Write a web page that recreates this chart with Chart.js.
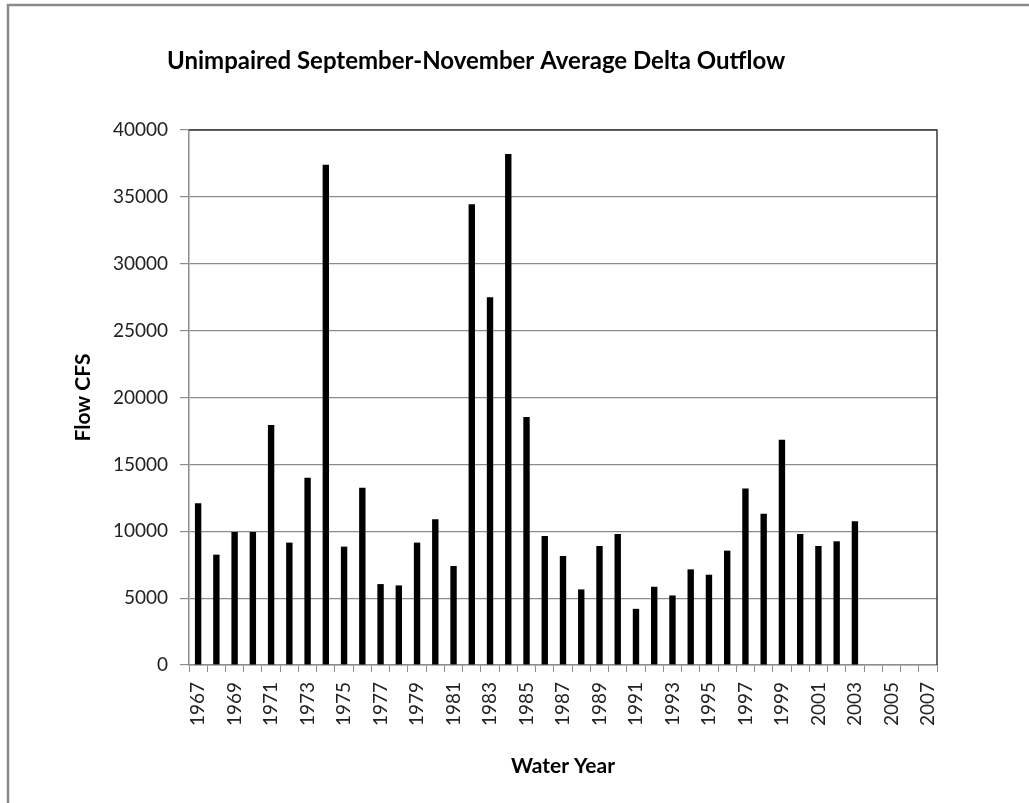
<!DOCTYPE html>
<html>
<head>
<meta charset="utf-8">
<title>Unimpaired September-November Average Delta Outflow</title>
<script src="https://cdn.jsdelivr.net/npm/chart.js@4.4.1/dist/chart.umd.min.js"></script>
<style>
    html, body { margin: 0; padding: 0; background: #fff; overflow: hidden; }
    #wrap { width: 1029px; height: 803px; }
</style>
</head>
<body>
<div id="wrap"><canvas id="flow-chart" width="1029" height="803"></canvas></div>
<script>
// data
const chartTitle = 'Unimpaired September-November Average Delta Outflow';
const years = [
    '1967', '1968', '1969', '1970', '1971', '1972', '1973', '1974', '1975', '1976',
    '1977', '1978', '1979', '1980', '1981', '1982', '1983', '1984', '1985', '1986',
    '1987', '1988', '1989', '1990', '1991', '1992', '1993', '1994', '1995', '1996',
    '1997', '1998', '1999', '2000', '2001', '2002', '2003', '2004', '2005', '2006', '2007'
];
const flowCfs = [
    12100, 8250, 9950, 9950, 17950, 9150, 14000, 37400, 8850, 13250,
    6050, 5950, 9150, 10900, 7400, 34450, 27500, 38200, 18550, 9650,
    8150, 5650, 8900, 9800, 4200, 5850, 5200, 7150, 6750, 8550,
    13200, 11300, 16850, 9800, 8900, 9250, 10750, null, null, null, null
];
const yMin = 0;
const yMax = 40000;
const yStep = 5000;

const FONT = 'Lato, "Open Sans", "Liberation Sans", sans-serif';

// frame around the whole chart, title, and the dark top/right plot border
const chartDecor = {
    id: 'chartDecor',
    beforeDraw(chart) {
        const ctx = chart.ctx;
        ctx.save();
        ctx.fillStyle = '#fff';
        ctx.fillRect(0, 0, chart.width, chart.height);
        ctx.strokeStyle = '#8a8a8a';
        ctx.lineWidth = 2.5;
        ctx.strokeRect(8, 5, chart.width + 50, chart.height + 50);
        ctx.restore();
    },
    afterDraw(chart) {
        const ctx = chart.ctx;
        const a = chart.chartArea;
        ctx.save();
        ctx.strokeStyle = '#3a3a3a';
        ctx.lineWidth = 1.5;
        ctx.beginPath();
        ctx.moveTo(a.left, a.top);
        ctx.lineTo(a.right, a.top);
        ctx.lineTo(a.right, a.bottom);
        ctx.stroke();

        ctx.fillStyle = '#000';
        ctx.font = 'bold 24px ' + FONT;
        ctx.textAlign = 'left';
        ctx.textBaseline = 'middle';
        ctx.fillText(chartTitle, 167, 61);
        ctx.restore();
    }
};

new Chart(document.getElementById('flow-chart'), {
    type: 'bar',
    data: {
        labels: years,
        datasets: [{
            label: 'Flow CFS',
            data: flowCfs,
            backgroundColor: '#000',
            borderWidth: 0,
            barPercentage: 0.35,
            categoryPercentage: 1.0
        }]
    },
    options: {
        responsive: false,
        animation: false,
        devicePixelRatio: 1,
        layout: {
            padding: { left: 71, right: 92, top: 130, bottom: 24 }
        },
        plugins: {
            legend: { display: false },
            title: { display: false },
            tooltip: { enabled: false }
        },
        scales: {
            x: {
                grid: {
                    offset: true,
                    drawOnChartArea: false,
                    drawTicks: true,
                    tickLength: 7,
                    color: '#8c8c8c'
                },
                border: { color: '#8c8c8c', width: 1.5 },
                ticks: {
                    autoSkip: false,
                    maxRotation: 90,
                    minRotation: 90,
                    padding: 10,
                    color: '#222',
                    font: { family: FONT, size: 19 },
                    callback: function(value, index) {
                        return index % 2 === 0 ? this.getLabelForValue(value) : '';
                    }
                },
                title: {
                    display: true,
                    text: 'Water Year',
                    color: '#000',
                    padding: 0,
                    font: { family: FONT, size: 21, weight: 'bold' }
                },
                afterFit(scale) { scale.height = 114; }
            },
            y: {
                min: yMin,
                max: yMax,
                ticks: {
                    stepSize: yStep,
                    padding: 12,
                    color: '#222',
                    font: { family: FONT, size: 19 },
                    callback: value => String(value)
                },
                grid: {
                    color: '#8c8c8c',
                    lineWidth: 1.2,
                    tickLength: 9
                },
                border: { color: '#8c8c8c', width: 1.5 },
                title: {
                    display: true,
                    text: 'Flow CFS',
                    color: '#000',
                    padding: 0,
                    font: { family: FONT, size: 21, weight: 'bold' }
                },
                afterFit(scale) { scale.width = 118; }
            }
        }
    },
    plugins: [chartDecor]
});
</script>
</body>
</html>
